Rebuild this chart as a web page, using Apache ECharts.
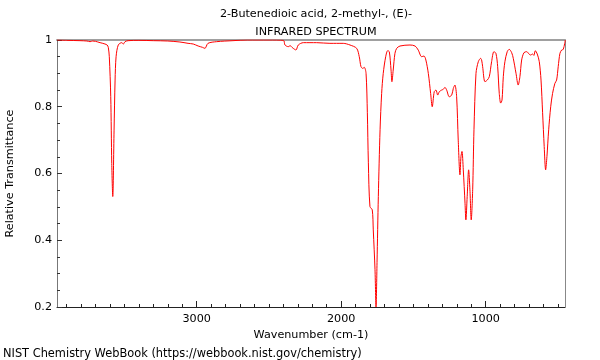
<!DOCTYPE html>
<html><head><meta charset="utf-8">
<script src="https://cdn.jsdelivr.net/npm/echarts@6/dist/echarts.min.js"></script>
<style>html,body{margin:0;padding:0;background:#fff}#c{width:600px;height:360px}</style>
</head><body><div id="c"></div>
<script>
const wavenumbers = [3967,3900,3808,3760,3738,3720,3700,3669,3650,3635,3620,3612,3605,3595,3588,3581,3572,3565,3558,3543,3519,3508,3496,3475,3400,3300,3200,3116,3060,3024,2990,2960,2943,2922,2862,2749,2650,2500,2400,2389,2366,2354,2340,2332,2313,2297,2262,2170,2078,2032,1986,1939,1893,1875,1863,1851,1840,1828,1819,1812,1801,1785,1778,1766,1759,1752,1743,1731,1720,1709,1692,1678,1667,1655,1649,1640,1628,1616,1593,1524,1489,1467,1443,1427,1414,1397,1381,1370,1356,1344,1332,1321,1305,1294,1282,1270,1252,1235,1224,1213,1201,1190,1178,1171,1164,1155,1143,1137,1128,1118,1109,1100,1090,1081,1067,1051,1035,1028,1021,1005,989,975,959,943,929,917,906,896,887,878,867,851,837,820,809,790,775,763,751,735,716,700,689,675,666,657,643,629,617,606,595,585,576,564,550,537,521,509,498,486,474,463,453,449];
const transmittance = [1.0,0.999,0.998,0.997,0.995,0.997,0.996,0.992,0.99,0.988,0.985,0.978,0.95,0.83,0.63,0.531,0.73,0.88,0.95,0.985,0.992,0.988,0.995,0.998,0.999,0.998,0.997,0.994,0.99,0.988,0.982,0.978,0.975,0.99,0.995,0.998,1.0,1.0,0.999,0.985,0.98,0.983,0.978,0.975,0.970,0.985,0.992,0.992,0.99,0.99,0.99,0.985,0.975,0.95,0.92,0.915,0.918,0.90,0.782,0.632,0.501,0.491,0.431,0.312,0.2,0.333,0.531,0.731,0.84,0.90,0.95,0.968,0.965,0.91,0.875,0.91,0.96,0.975,0.982,0.985,0.982,0.97,0.95,0.952,0.94,0.90,0.84,0.80,0.845,0.85,0.835,0.845,0.85,0.852,0.858,0.85,0.83,0.835,0.855,0.865,0.83,0.70,0.596,0.651,0.666,0.611,0.511,0.461,0.531,0.611,0.551,0.461,0.551,0.731,0.90,0.935,0.945,0.94,0.92,0.875,0.88,0.89,0.935,0.965,0.96,0.92,0.84,0.811,0.82,0.89,0.935,0.965,0.972,0.962,0.945,0.90,0.865,0.89,0.94,0.962,0.965,0.958,0.955,0.958,0.954,0.968,0.958,0.935,0.88,0.782,0.681,0.611,0.651,0.731,0.80,0.84,0.87,0.88,0.92,0.96,0.97,0.972,0.99,1.0];
const xMajorTicks = [1000, 2000, 3000];
const xMinorTicks = [500,600,700,800,900,1000,1100,1200,1300,1400,1500,1600,1700,1800,1900,2000,2100,2200,2300,2400,2500,2600,2700,2800,2900,3000,3100,3200,3300,3400,3500,3600,3700,3800,3900];
const titleLines = ['2-Butenedioic acid, 2-methyl-, (E)-', 'INFRARED SPECTRUM'];
const xName = 'Wavenumber (cm-1)';
const yName = 'Relative Transmittance';
const footer = 'NIST Chemistry WebBook (https://webbook.nist.gov/chemistry)';

const FONT = 'DejaVu Sans';
const points = wavenumbers.map((w, i) => [w, transmittance[i]]);
const chart = echarts.init(document.getElementById('c'), null, {renderer: 'canvas'});
const xMin = 451, xMax = 3967;
chart.setOption({
  animation: false,
  backgroundColor: '#fff',
  textStyle: {fontFamily: FONT},
  title: [
    {text: titleLines[0], left: 311, top: 4, textAlign: 'center', textStyle: {fontFamily: FONT, fontSize: 11.2, fontWeight: 'normal', color: '#000'}},
    {text: titleLines[1], left: 311, top: 22, textAlign: 'center', textStyle: {fontFamily: FONT, fontSize: 11.2, fontWeight: 'normal', color: '#000'}},
    {text: footer, left: -2, top: 344, textStyle: {fontFamily: FONT, fontSize: 11.4, fontWeight: 'normal', color: '#000'}}
  ],
  grid: {left: 57, right: 35, top: 40, bottom: 53, containLabel: false, outerBoundsMode: 'none'},
  xAxis: [
    {type: 'value', inverse: true, min: xMin, max: xMax, position: 'bottom',
     name: xName, nameLocation: 'middle', nameGap: 15,
     nameTextStyle: {fontFamily: FONT, fontSize: 11.2, color: '#000'},
     axisLine: {show: true, lineStyle: {color: '#222', width: 1}},
     axisTick: {show: true, inside: true, length: 3, customValues: xMinorTicks, lineStyle: {color: '#222'}},
     axisLabel: {show: true, customValues: xMajorTicks, formatter: v => String(v), fontFamily: FONT, fontSize: 11.2, color: '#000', margin: 7},
     splitLine: {show: false}},
    {type: 'value', inverse: true, min: xMin, max: xMax, position: 'bottom',
     axisLine: {show: false},
     axisTick: {show: true, inside: true, length: 6, customValues: xMajorTicks, lineStyle: {color: '#222'}},
     axisLabel: {show: false}, splitLine: {show: false}},
    {type: 'value', inverse: true, min: xMin, max: xMax, position: 'top',
     axisLine: {show: true, lineStyle: {color: '#a0a0a0', width: 2}},
     axisTick: {show: false}, axisLabel: {show: false}, splitLine: {show: false}}
  ],
  yAxis: [
    {type: 'value', min: 0.2, max: 1, interval: 0.2, position: 'left',
     name: yName, nameLocation: 'middle', nameGap: 41, nameRotate: 90,
     nameTextStyle: {fontFamily: FONT, fontSize: 11.2, color: '#000'},
     axisLine: {show: true, lineStyle: {color: '#777', width: 1}},
     axisTick: {show: true, inside: true, length: 5, lineStyle: {color: '#333'}},
     minorTick: {show: true, splitNumber: 4, length: 3, lineStyle: {color: '#333'}},
     axisLabel: {fontFamily: FONT, fontSize: 11.2, color: '#000', margin: 5},
     splitLine: {show: false}, minorSplitLine: {show: false}},
    {type: 'value', min: 0.2, max: 1, position: 'right',
     axisLine: {show: true, lineStyle: {color: '#888', width: 1}},
     axisTick: {show: false}, axisLabel: {show: false}, splitLine: {show: false}}
  ],
  series: [{
    type: 'line', xAxisIndex: 0, yAxisIndex: 0, data: points,
    showSymbol: false, symbol: 'none', smooth: 0.3, clip: true,
    lineStyle: {color: '#ff0000', width: 1}
  }]
});
</script>
</body></html>
